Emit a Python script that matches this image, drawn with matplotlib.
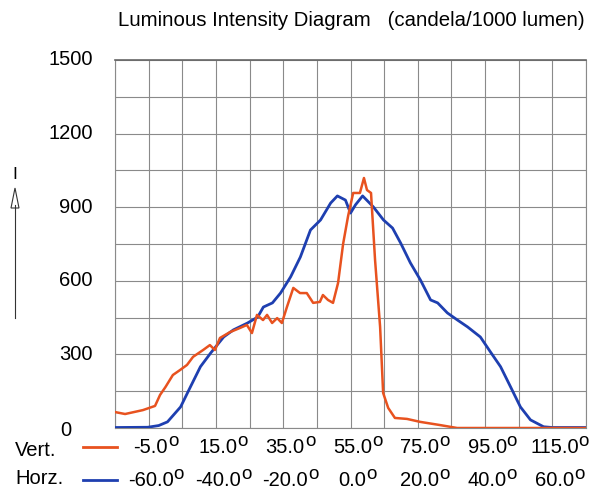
import numpy as np
import matplotlib.pyplot as plt
from matplotlib.transforms import offset_copy

plt.rcParams['font.family'] = ['Liberation Sans', 'DejaVu Sans']

# horizontal plane (C0-C180), angle in degrees vs candela/1000 lm
horz_angle = [-70, -60.3, -57, -54.4, -50.5, -47.6, -44.6, -41.6, -37.7, -34.8,
              -30.6, -27.6, -25.9, -23.2, -20.8, -17.8, -14.9, -11.9, -8.9, -5.9,
              -3.9, -1.5, 0, 1.5, 3.6, 6.8, 9.8, 12.5, 14.9, 17.8,
              20.8, 23.8, 25.9, 28.8, 31.8, 34.8, 38.6, 41.6, 44.6, 47.6,
              50.5, 53.5, 57.4, 60, 70]
horz_cd = [2, 3, 10, 25, 86, 167, 250, 305, 371, 400,
           428, 452, 493, 510, 550, 616, 697, 807, 848, 917,
           946, 929, 876, 910, 946, 901, 848, 815, 754, 673,
           603, 522, 510, 469, 440, 412, 371, 310, 250, 167,
           86, 33, 5, 2, 2]

# vertical plane
vert_angle = [-15, -12, -6.7, -3.1, -1.6, 0, 1.3, 2.2, 4.3, 6.4,
              8.2, 11.2, 13.2, 14.7, 16.2, 19.2, 22.2, 24.2, 25.7, 27.2,
              29, 30.2, 31.7, 33.2, 34.6, 36.1, 38, 40, 42, 43.9,
              45.9, 46.8, 48.3, 49.8, 51.3, 52.8, 54.3, 55.8, 57.8, 59,
              59.9, 61.1, 62.3, 63.8, 64.7, 66.2, 68.2, 71.8, 75.7, 81.6,
              86.7, 100, 125]
vert_cd = [65, 57, 73, 90, 135, 167, 196, 216, 236, 257,
           290, 318, 338, 318, 367, 391, 408, 420, 387, 461,
           440, 461, 428, 448, 428, 493, 571, 550, 550, 510,
           514, 542, 522, 510, 591, 750, 865, 958, 958, 1019,
           970, 958, 685, 412, 143, 82, 41, 37, 25, 12,
           0, 0, 0]

horz_ticks = [-60, -40, -20, 0, 20, 40, 60]
vert_ticks = [-5, 15, 35, 55, 75, 95, 115]
y_ticks = [300, 600, 900, 1200, 1500]

RED = '#E8521F'
BLUE = '#1E3FB0'
GRID = '#8a8a8a'

W, H = 594, 491
fig = plt.figure(figsize=(W / 100, H / 100), dpi=100)
fig.patch.set_facecolor('white')
ax = fig.add_axes([115 / W, 1 - 428 / H, 471 / W, 368 / H])
ax.set_xlim(-70, 70)
ax.set_ylim(0, 1500)

ax.set_xticks(np.arange(-70, 71, 10))
ax.set_yticks(np.arange(0, 1501, 150))
ax.grid(True, color=GRID, lw=0.8)
ax.tick_params(length=0, labelbottom=False, labelleft=False)
for s in ax.spines.values():
    s.set_color(GRID)
    s.set_linewidth(0.8)
ax.spines['top'].set_color('#666666')
ax.spines['top'].set_linewidth(1.2)

# vertical plane uses its own angle scale on the same width
ax2 = ax.twiny()
ax2.set_xlim(-15, 125)
ax2.set_xticks([])
for s in ax2.spines.values():
    s.set_visible(False)

ax.plot(horz_angle, horz_cd, color=BLUE, lw=2.0, zorder=3)
ax2.plot(vert_angle, vert_cd, color=RED, lw=1.8, zorder=3)

fs = 14.5
renderer = fig.canvas.get_renderer()


def angle_label(axis, a, base_px):
    # number centred on the grid line, raised "o" as the degree sign
    tr = offset_copy(axis.get_xaxis_transform(), fig=fig, x=2, y=0, units='dots')
    yfrac = -(base_px - 428) / 368
    t = axis.text(a, yfrac, f'{a:.1f}', transform=tr, ha='center', va='baseline', fontsize=fs)
    bb = t.get_window_extent(renderer)
    fig.text(bb.x1 / W, (H - base_px + 7) / H, 'o', ha='left', va='baseline', fontsize=fs - 1)


for a in vert_ticks:
    angle_label(ax2, a, 453)
for a in horz_ticks:
    angle_label(ax, a, 486)

for v in y_ticks:
    ax.text(-22 / 471, v, str(v), transform=ax.get_yaxis_transform(), ha='right', va='center', fontsize=fs)
fig.text(66 / W, 1 - 430 / H, '0', ha='center', va='center', fontsize=fs)

# legend rows
fig.text(15 / W, (H - 456) / H, 'Vert.', ha='left', va='baseline', fontsize=fs)
fig.text(15 / W, (H - 484) / H, 'Horz.', ha='left', va='baseline', fontsize=fs)
fig.add_artist(plt.Line2D([83 / W, 117 / W], [1 - 447 / H] * 2, color=RED, lw=2.0))
fig.add_artist(plt.Line2D([83 / W, 117 / W], [1 - 480 / H] * 2, color=BLUE, lw=2.0))

# intensity axis arrow
fig.text(15 / W, 1 - 174 / H, 'I', ha='center', va='center', fontsize=fs - 2)
fig.add_artist(plt.Line2D([15 / W, 15 / W], [1 - 318 / H, 1 - 205 / H], color='#333333', lw=0.8))
fig.add_artist(plt.Polygon([[11 / W, 1 - 208 / H], [19 / W, 1 - 208 / H], [15 / W, 1 - 188 / H]],
                           closed=True, facecolor='white', edgecolor='#333333', lw=0.8))

fig.text(118 / W, 1 - 21 / H, 'Luminous Intensity Diagram   (candela/1000 lumen)',
         ha='left', va='center', fontsize=14.7)

fig.savefig('out.png', dpi=100, facecolor='white')
